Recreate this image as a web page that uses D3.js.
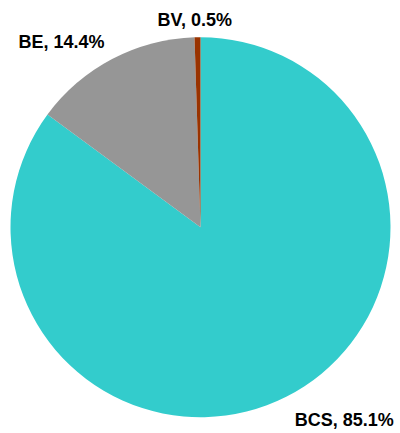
<!DOCTYPE html>
<html>
<head>
<meta charset="utf-8">
<script src="https://cdn.jsdelivr.net/npm/d3@7"></script>
<style>
  html, body { margin: 0; padding: 0; background: #fff; }
  svg { display: block; }
</style>
</head>
<body>
<div id="chart"></div>
<script>
const categories = ["BCS", "BE", "BV"];
const values = [85.1, 14.4, 0.5];
const labels = ["BCS, 85.1%", "BE, 14.4%", "BV, 0.5%"];

const colors = ["#33CCCC", "#969696", "#993300"];
// label placement (polar, relative to pie center): angle in degrees clockwise from top, distance in px
const labelLayout = [
  { angle: 143.3, dist: 240.5 },
  { angle: 323.1, dist: 231.6 },
  { angle: 358.4, dist: 206.9 }
];

const W = 400, H = 433;
const cx = 200.5, cy = 227.2, R = 190;

const svg = d3.select("#chart").append("svg")
  .attr("width", W).attr("height", H);

const pie = d3.pie().sort(null).value(d => d).startAngle(0).endAngle(2 * Math.PI);
const arcs = pie(values);
const arc = d3.arc().innerRadius(0).outerRadius(R);

const color = d3.scaleOrdinal().domain(categories).range(colors);

const g = svg.append("g").attr("transform", `translate(${cx},${cy})`);

g.selectAll("path.slice")
  .data(arcs)
  .enter().append("path")
  .attr("class", "slice")
  .attr("d", arc)
  .attr("fill", (d, i) => color(categories[i]));

g.selectAll("text.lbl")
  .data(arcs)
  .enter().append("text")
  .attr("class", "lbl")
  .attr("x", (d, i) => Math.sin(labelLayout[i].angle * Math.PI / 180) * labelLayout[i].dist)
  .attr("y", (d, i) => -Math.cos(labelLayout[i].angle * Math.PI / 180) * labelLayout[i].dist)
  .attr("text-anchor", "middle")
  .attr("dominant-baseline", "central")
  .attr("font-family", "Liberation Sans, Arial, sans-serif")
  .attr("font-weight", "bold")
  .attr("font-size", "18px")
  .attr("fill", "#000")
  .text((d, i) => labels[i]);
</script>
</body>
</html>
